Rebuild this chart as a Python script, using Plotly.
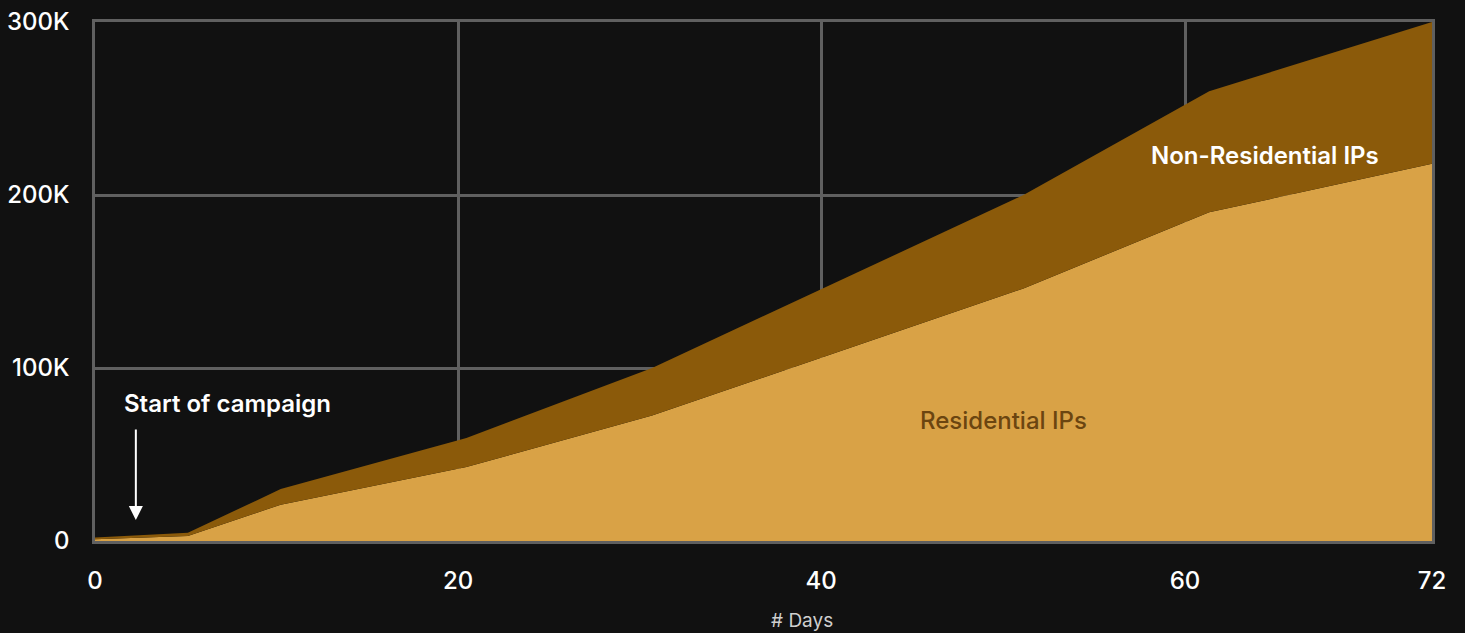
import plotly.graph_objects as go

days = [0, 5, 10, 20, 30, 50, 60, 72]
residential = [1000, 2900, 21000, 42800, 72500, 146000, 190000, 218000]
non_residential = [1000, 1900, 9000, 16700, 27500, 54000, 70000, 82000]

x_tick_positions = [0, 19.55, 39.1, 58.7, 72]
x_tick_labels = ["0", "20", "40", "60", "72"]
y_tick_values = [0, 100000, 200000, 300000]
y_tick_labels = ["0", "100K", "200K", "300K"]

BG = "#111111"
GRID = "#606060"
RES_COLOR = "#D9A246"
NONRES_COLOR = "#8B5A0A"
FONT = "Inter"

fig = go.Figure()
fig.add_trace(go.Scatter(
    x=days, y=residential, name="Residential IPs", stackgroup="ips",
    mode="lines", line=dict(width=0, color=RES_COLOR), fillcolor=RES_COLOR,
    hoverinfo="skip"))
fig.add_trace(go.Scatter(
    x=days, y=non_residential, name="Non-Residential IPs", stackgroup="ips",
    mode="lines", line=dict(width=0, color=NONRES_COLOR), fillcolor=NONRES_COLOR,
    hoverinfo="skip"))

axis_common = dict(
    showgrid=True, gridcolor=GRID, gridwidth=2.5,
    showline=True, linecolor=GRID, linewidth=2.5, mirror=True,
    zeroline=False, layer="below traces", automargin=False,
    ticks="outside", tickcolor=BG,
    tickfont=dict(family=FONT, size=24, color="#ffffff", weight=500),
)

fig.update_layout(
    width=1465, height=633,
    paper_bgcolor=BG, plot_bgcolor=BG,
    margin=dict(l=95, r=33, t=22, b=92),
    showlegend=False,
    font=dict(family=FONT, color="#ffffff"),
    xaxis=dict(
        range=[0, 72], tickmode="array",
        tickvals=x_tick_positions, ticktext=x_tick_labels, ticklen=16,
        **axis_common),
    yaxis=dict(
        range=[0, 300000], tickmode="array",
        tickvals=y_tick_values, ticktext=y_tick_labels, ticklen=18,
        **axis_common),
    annotations=[
        dict(x=0.5288, y=-0.154, xref="paper", yref="paper", text="# Days",
             showarrow=False, xanchor="center", yanchor="middle",
             font=dict(family=FONT, size=19, color="#cfcfcf")),
        dict(x=7.16, y=79200, text="Start of campaign", showarrow=False,
             font=dict(family=FONT, size=24, color="#ffffff", weight=600)),
        dict(x=2.2, y=12100, text="", showarrow=True, ax=0, ay=-92,
             arrowhead=2, arrowsize=1.4, arrowwidth=2, arrowcolor="#ffffff"),
        dict(x=63.0, y=223100, text="Non-Residential IPs", showarrow=False,
             font=dict(family=FONT, size=24, color="#ffffff", weight=600)),
        dict(x=48.9, y=69900, text="Residential IPs", showarrow=False,
             font=dict(family=FONT, size=24, color="#6B4510", weight=500)),
    ],
)

fig.write_html("out.html")
